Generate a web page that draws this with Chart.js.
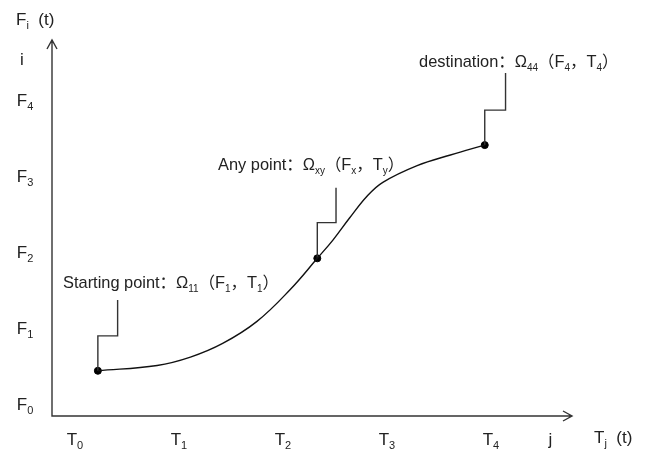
<!DOCTYPE html>
<html lang="en">
<head>
<meta charset="UTF-8" />
<title>Path from starting point to destination</title>
<script src="https://cdn.jsdelivr.net/npm/chart.js"></script>
<style>
  html, body { margin: 0; padding: 0; background: #fff; }
  #wrap { width: 650px; height: 457px; }
</style>
</head>
<body>
<div id="wrap"><canvas id="grafico"></canvas></div>

<script>
  // curve (x in T units, y in F units)
  const curveX = [0.22, 0.79, 1.11, 1.42, 1.75, 2.07, 2.33, 2.48, 2.64, 2.81, 2.96, 3.29, 3.61, 3.94];
  const curveY = [0.45, 0.52, 0.63, 0.81, 1.10, 1.52, 1.93, 2.17, 2.46, 2.75, 2.93, 3.15, 3.29, 3.42];

  // the three marked points: start, any, destination
  const markX = [0.22, 2.33, 3.94];
  const markY = [0.45, 1.93, 3.42];

  // step-shaped leader lines from each point up to its label
  const leadStartX = [0.22, 0.22, 0.41, 0.41];
  const leadStartY = [0.45, 0.91, 0.91, 1.38];
  const leadAnyX = [2.33, 2.33, 2.51, 2.51];
  const leadAnyY = [1.93, 2.40, 2.40, 2.86];
  const leadDestX = [3.94, 3.94, 4.14, 4.14];
  const leadDestY = [3.42, 3.88, 3.88, 4.37];

  // tick labels (_{..} = subscript)
  const xTickValues = [0, 1, 2, 3, 4];
  const xTickLabels = ['T_{0}', 'T_{1}', 'T_{2}', 'T_{3}', 'T_{4}'];
  const yTickValues = [0, 1, 2, 3, 4];
  const yTickLabels = ['F_{0}', 'F_{1}', 'F_{2}', 'F_{3}', 'F_{4}'];

  const pointNames = [
    'Starting point：Ω_{11}（F_{1}，T_{1}）',
    'Any point：Ω_{xy}（F_{x}，T_{y}）',
    'destination：Ω_{44}（F_{4}，T_{4}）'
  ];

  const FONT = '"Liberation Sans", Arial, "Noto Sans CJK SC", sans-serif';

  const toPts = (xs, ys) => xs.map((x, i) => ({ x: x, y: ys[i] }));

  // draw text with subscripts, vertically centred on y
  function richText(ctx, str, x, y, size, align) {
    const parts = str.split(/_\{([^}]*)\}/);
    const subSize = Math.round(size * 0.64);
    let w = 0;
    parts.forEach((p, i) => {
      ctx.font = (i % 2 ? subSize : size) + 'px ' + FONT;
      w += ctx.measureText(p).width;
    });
    let cx = align === 'center' ? x - w / 2 : x;
    ctx.textBaseline = 'middle';
    ctx.textAlign = 'left';
    parts.forEach((p, i) => {
      const sub = i % 2 === 1;
      ctx.font = (sub ? subSize : size) + 'px ' + FONT;
      ctx.fillText(p, cx, sub ? y + size * 0.36 : y);
      cx += ctx.measureText(p).width;
    });
  }

  const esquema = {
    id: 'esquema',
    afterDraw(chart) {
      const ctx = chart.ctx;
      const a = chart.chartArea;
      const xs = chart.scales.x, ys = chart.scales.y;
      ctx.save();
      ctx.strokeStyle = '#333';
      ctx.fillStyle = '#222';
      ctx.lineWidth = 1.4;

      // axes with open arrow heads
      ctx.beginPath();
      ctx.moveTo(a.left, a.top);
      ctx.lineTo(a.left, a.bottom);
      ctx.lineTo(a.right, a.bottom);
      ctx.moveTo(a.left - 5, a.top + 9);
      ctx.lineTo(a.left, a.top);
      ctx.lineTo(a.left + 5, a.top + 9);
      ctx.moveTo(a.right - 9, a.bottom - 5);
      ctx.lineTo(a.right, a.bottom);
      ctx.lineTo(a.right - 9, a.bottom + 5);
      ctx.stroke();

      // tick labels
      xTickValues.forEach((v, i) => richText(ctx, xTickLabels[i], xs.getPixelForValue(v), 440, 17, 'center'));
      yTickValues.forEach((v, i) => richText(ctx, yTickLabels[i], 25, ys.getPixelForValue(v), 17, 'center'));
      richText(ctx, 'j', xs.getPixelForValue(4.57), 440, 17, 'center');
      richText(ctx, 'i', 22, ys.getPixelForValue(4.54), 17, 'center');
      richText(ctx, 'T_{j}  (t)', 594, 438, 17, 'left');
      richText(ctx, 'F_{i}  (t)', 16, 20, 17, 'left');

      // point labels
      const anchors = [[-0.115, 1.605], [1.375, 3.158], [3.308, 4.513]];
      pointNames.forEach((t, i) => {
        richText(ctx, t, xs.getPixelForValue(anchors[i][0]), ys.getPixelForValue(anchors[i][1]), 16.4, 'left');
      });
      ctx.restore();
    }
  };

  const leader = (xs, ys) => ({
    data: toPts(xs, ys), showLine: true, borderColor: '#333', borderWidth: 1.4,
    pointRadius: 0, tension: 0
  });

  new Chart(document.getElementById('grafico'), {
    type: 'scatter',
    data: {
      datasets: [
        {
          data: toPts(curveX, curveY), showLine: true, borderColor: '#111', borderWidth: 1.4,
          pointRadius: 0, tension: 0.4
        },
        leader(leadStartX, leadStartY),
        leader(leadAnyX, leadAnyY),
        leader(leadDestX, leadDestY),
        {
          data: toPts(markX, markY), backgroundColor: '#000', borderColor: '#000',
          pointRadius: 3.5, showLine: false
        }
      ]
    },
    options: {
      responsive: true,
      maintainAspectRatio: false,
      animation: false,
      layout: { padding: { left: 52, right: 78, top: 40, bottom: 41 } },
      plugins: { legend: { display: false }, tooltip: { enabled: false } },
      scales: {
        x: { type: 'linear', min: -0.221, max: 4.779, display: false },
        y: { type: 'linear', min: -0.145, max: 4.803, display: false }
      }
    },
    plugins: [esquema]
  });
</script>
</body>
</html>
